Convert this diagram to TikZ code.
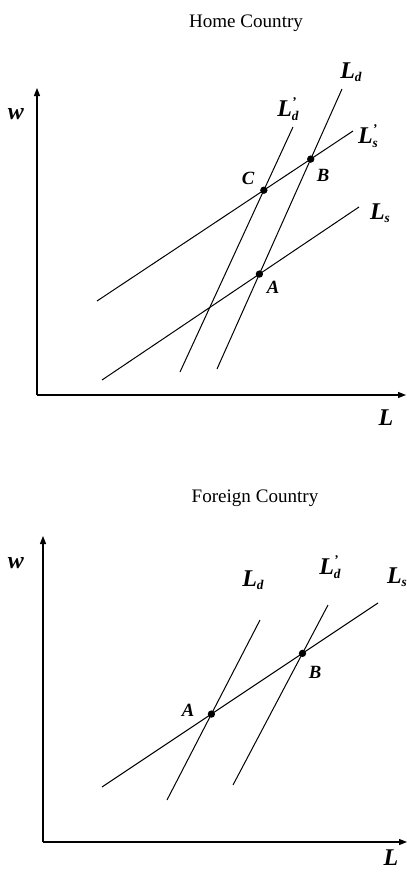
\documentclass[tikz,border=0pt]{standalone}
\usepackage{fontspec}
\setmainfont{Liberation Serif}
\usetikzlibrary{arrows.meta}
\newcommand\curvelab[2]{\bfseries\itshape L\rlap{\raisebox{0.42em}{\fontsize{10}{10}\selectfont #2}}{\fontsize{10}{10}\selectfont\raisebox{-0.25em}{#1}}}
\tikzset{
  axis/.style={line width=0.9pt,-{Triangle[length=6pt,width=4.5pt]}},
  curve/.style={line width=0.75pt},
  eqdot/.style={circle,fill=black,inner sep=0pt,minimum size=5.5pt},
  ptlab/.style={font=\fontsize{14}{14}\selectfont\bfseries\itshape,inner sep=0pt},
  cvlab/.style={font=\fontsize{18}{18}\selectfont,inner sep=0pt},
  axlab/.style={font=\fontsize{18}{18}\selectfont\bfseries\itshape,inner sep=0pt},
  ttl/.style={font=\fontsize{14.3}{15}\selectfont,inner sep=0pt}
}
\begin{document}
\begin{tikzpicture}[x=0.75pt,y=-0.75pt]
\useasboundingbox (0,0) rectangle (407,872);
% ---------------- Home Country ----------------
\node[ttl] (t1) at (246,23) {Home Country};
\coordinate (o1) at (37,395);
\coordinate (y1) at (37,88);
\coordinate (x1) at (406,395);
\draw[axis] (o1) -- (y1);
\draw[axis] (o1) -- (x1);
\node[axlab] (w1) at (16,114) {w};
\node[axlab] (L1) at (386,418) {L};
% curves
\coordinate (ls1a) at (102,380); \coordinate (ls1b) at (359,207);
\coordinate (lsp1a) at (97,301); \coordinate (lsp1b) at (353,131);
\coordinate (ldp1a) at (180,372); \coordinate (ldp1b) at (293,127);
\coordinate (ld1a) at (217,369); \coordinate (ld1b) at (342,89);
\draw[curve] (ls1a) -- (ls1b);
\draw[curve] (lsp1a) -- (lsp1b);
\draw[curve] (ldp1a) -- (ldp1b);
\draw[curve] (ld1a) -- (ld1b);
\node[eqdot] (A1) at (intersection of ls1a--ls1b and ld1a--ld1b) {};
\node[eqdot] (B1) at (intersection of lsp1a--lsp1b and ld1a--ld1b) {};
\node[eqdot] (C1) at (intersection of lsp1a--lsp1b and ldp1a--ldp1b) {};
\node[ptlab] (Al1) at (273,287) {A};
\node[ptlab] (Bl1) at (323,175) {B};
\node[ptlab] (Cl1) at (248,178) {C};
\node[cvlab] (ldl1) at (351,72) {\curvelab{d}{}};
\node[cvlab] (ldpl1) at (288,109) {\curvelab{d}{'}};
\node[cvlab] (lspl1) at (368,136) {\curvelab{s}{'}};
\node[cvlab] (lsl1) at (380,213) {\curvelab{s}{}};
% ---------------- Foreign Country ----------------
\node[ttl] (t2) at (255,498) {Foreign Country};
\coordinate (o2) at (43,842);
\coordinate (y2) at (43,536);
\coordinate (x2) at (407,842);
\draw[axis] (o2) -- (y2);
\draw[axis] (o2) -- (x2);
\node[axlab] (w2) at (16,563) {w};
\node[axlab] (L2) at (391,858) {L};
\coordinate (ls2a) at (102,787); \coordinate (ls2b) at (378,603);
\coordinate (ld2a) at (167,800); \coordinate (ld2b) at (260,620);
\coordinate (ldp2a) at (233,785); \coordinate (ldp2b) at (328,605);
\draw[curve] (ls2a) -- (ls2b);
\draw[curve] (ld2a) -- (ld2b);
\draw[curve] (ldp2a) -- (ldp2b);
\node[eqdot] (A2) at (intersection of ls2a--ls2b and ld2a--ld2b) {};
\node[eqdot] (B2) at (intersection of ls2a--ls2b and ldp2a--ldp2b) {};
\node[ptlab] (Al2) at (188,710) {A};
\node[ptlab] (Bl2) at (315,672) {B};
\node[cvlab] (ldl2) at (253,580) {\curvelab{d}{}};
\node[cvlab] (ldpl2) at (330,567) {\curvelab{d}{'}};
\node[cvlab] (lsl2) at (397,577) {\curvelab{s}{}};
\end{tikzpicture}
\end{document}
